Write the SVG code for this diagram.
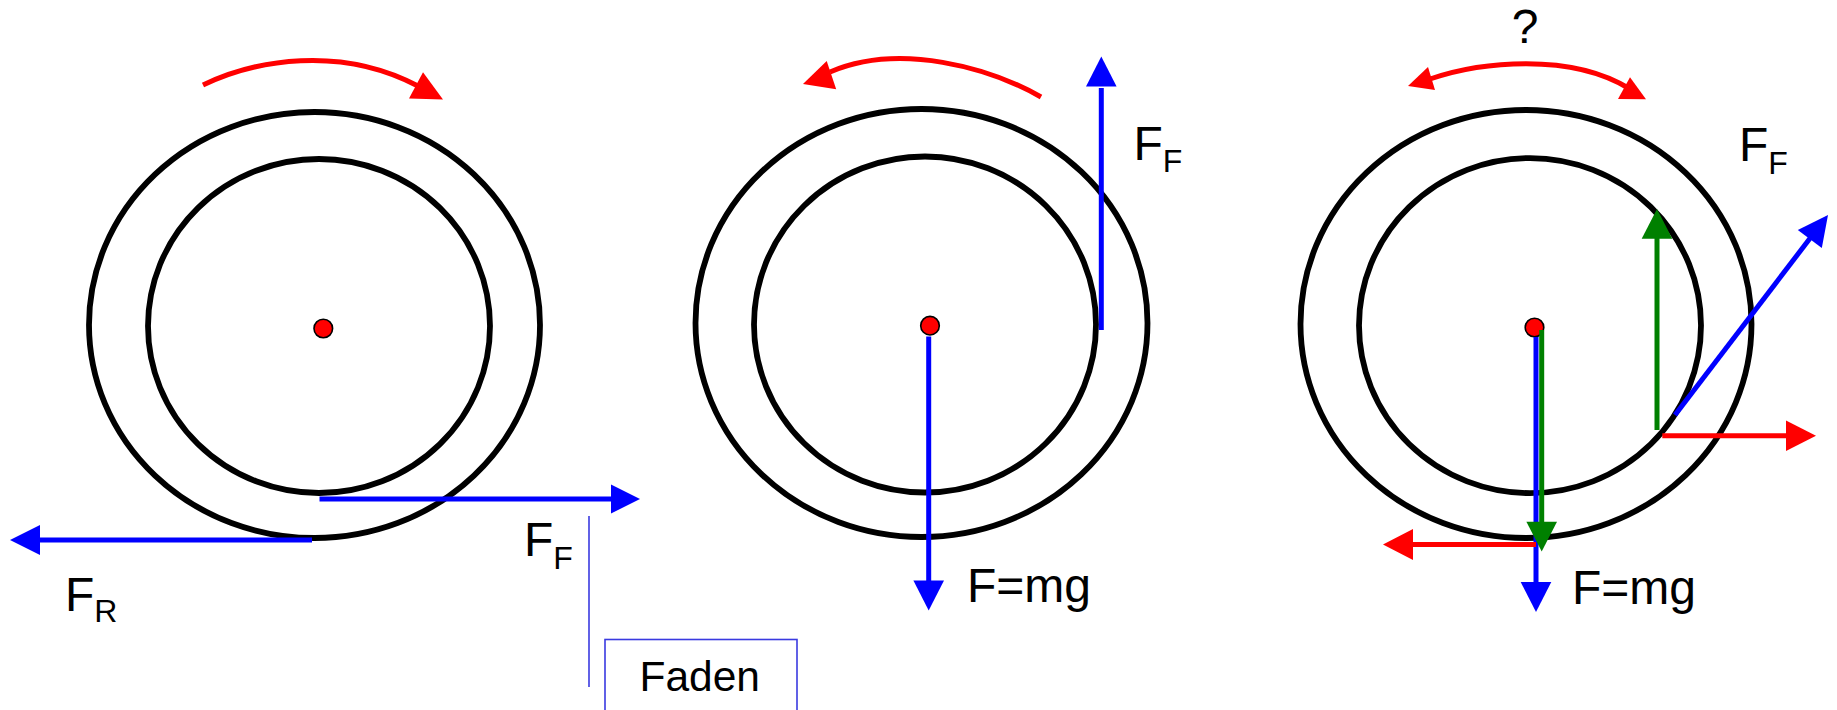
<svg xmlns="http://www.w3.org/2000/svg" width="1837" height="710" viewBox="0 0 1837 710">
<style>
.rim{fill:none;stroke:#000;stroke-width:5.8}
.dot{fill:#ff0000;stroke:#000;stroke-width:1.6}
.lbl{font-family:"Liberation Sans",Arial,sans-serif;font-size:48px;fill:#000}
.sub{font-size:32px}
.b{stroke:#0000ff;stroke-width:5;fill:none}
.bh{fill:#0000ff}
.r{stroke:#ff0000;stroke-width:5;fill:none}
.rh{fill:#ff0000}
.g{stroke:#008000;stroke-width:5;fill:none}
.gh{fill:#008000}
.thin{stroke:#3a3ae0;stroke-width:1.6;fill:none}
</style>
<rect width="1837" height="710" fill="#fff"/>
<g id="wheel1">
<ellipse class="rim" cx="314.5" cy="325" rx="225.5" ry="213"/>
<ellipse class="rim" cx="319" cy="326" rx="171" ry="167"/>
<circle class="dot" cx="323.3" cy="328.5" r="9.3"/>
</g>
<g id="wheel2">
<ellipse class="rim" cx="921.5" cy="323" rx="226" ry="214"/>
<ellipse class="rim" cx="925" cy="324.5" rx="171" ry="168"/>
<circle class="dot" cx="930" cy="325.7" r="9.3"/>
</g>
<g id="wheel3">
<ellipse class="rim" cx="1526" cy="324" rx="225.5" ry="214"/>
<ellipse class="rim" cx="1530" cy="325.6" rx="171" ry="167.5"/>
<circle class="dot" cx="1534.5" cy="327.5" r="9.3"/>
</g>
<g id="connectors">
<!-- panel 1 -->
<path class="r" stroke-width="4.5" d="M203,85 C255,60 340,45 418,86"/>
<polygon class="rh" points="423,72.3 409,98.5 443,99.5"/>
<line class="b" x1="319.5" y1="499" x2="612" y2="499"/>
<polygon class="bh" points="640,499 611,484.5 611,513.5"/>
<line class="b" x1="312" y1="540" x2="38" y2="540"/>
<polygon class="bh" points="10,540 40,525 40,555"/>
<line class="thin" x1="589" y1="516" x2="589" y2="687"/>
<!-- panel 2 -->
<path class="r" stroke-width="4.5" d="M1041,97 C990,68 900,42 830,72"/>
<polygon class="rh" points="803,84 826.7,61 836.2,89.2"/>
<line class="b" x1="1101.3" y1="330" x2="1101.3" y2="88"/>
<polygon class="bh" points="1101.3,56.5 1086,86.5 1116.6,86.5"/>
<line class="b" x1="928.7" y1="336.5" x2="928.7" y2="583"/>
<polygon class="bh" points="928.7,610.5 913.4,580.5 944,580.5"/>
<!-- panel 3 -->
<path class="r" stroke-width="3.5" d="M1430,79 C1480,62 1570,52 1630,89"/>
<polygon class="rh" points="1408,86 1428,67 1435,90"/>
<polygon class="rh" points="1646,99.3 1618,99 1630,77.3"/>
<line class="b" x1="1536" y1="337" x2="1536" y2="584"/>
<polygon class="bh" points="1536,612 1520.7,582 1551.3,582"/>
<line class="b" x1="1675" y1="415" x2="1811" y2="237"/>
<polygon class="bh" points="1828,215 1797.8,229.9 1821.8,248"/>
<line class="r" x1="1662.3" y1="435.7" x2="1788" y2="435.7"/>
<polygon class="rh" points="1816,435.7 1786,420.5 1786,451"/>
<line class="r" x1="1536" y1="544.4" x2="1411" y2="544.4"/>
<polygon class="rh" points="1383,544.4 1413,529 1413,560"/>
<line class="g" x1="1657" y1="430" x2="1657" y2="236"/>
<polygon class="gh" points="1657,209 1641.7,238.7 1672.3,238.7"/>
<line class="g" x1="1541.7" y1="330" x2="1541.7" y2="524"/>
<polygon class="gh" points="1541.7,551.6 1526.4,521.7 1557,521.7"/>
</g>
<g id="labels">
<text class="lbl" x="524" y="556">F<tspan class="sub" dy="13">F</tspan></text>
<text class="lbl" x="65" y="610.5">F<tspan class="sub" dy="11.5">R</tspan></text>
<text class="lbl" x="1133.5" y="159.5">F<tspan class="sub" dy="12.5">F</tspan></text>
<text class="lbl" x="967" y="602">F=mg</text>
<text class="lbl" x="1739" y="160.8">F<tspan class="sub" dy="13.6">F</tspan></text>
<text class="lbl" x="1572" y="603.7">F=mg</text>
<text class="lbl" x="1525" y="43" text-anchor="middle">?</text>
</g>
<g id="faden">
<rect class="thin" x="605" y="639.5" width="192" height="90"/>
<text class="lbl" x="639.5" y="691" style="font-size:42.5px">Faden</text>
</g>
</svg>
